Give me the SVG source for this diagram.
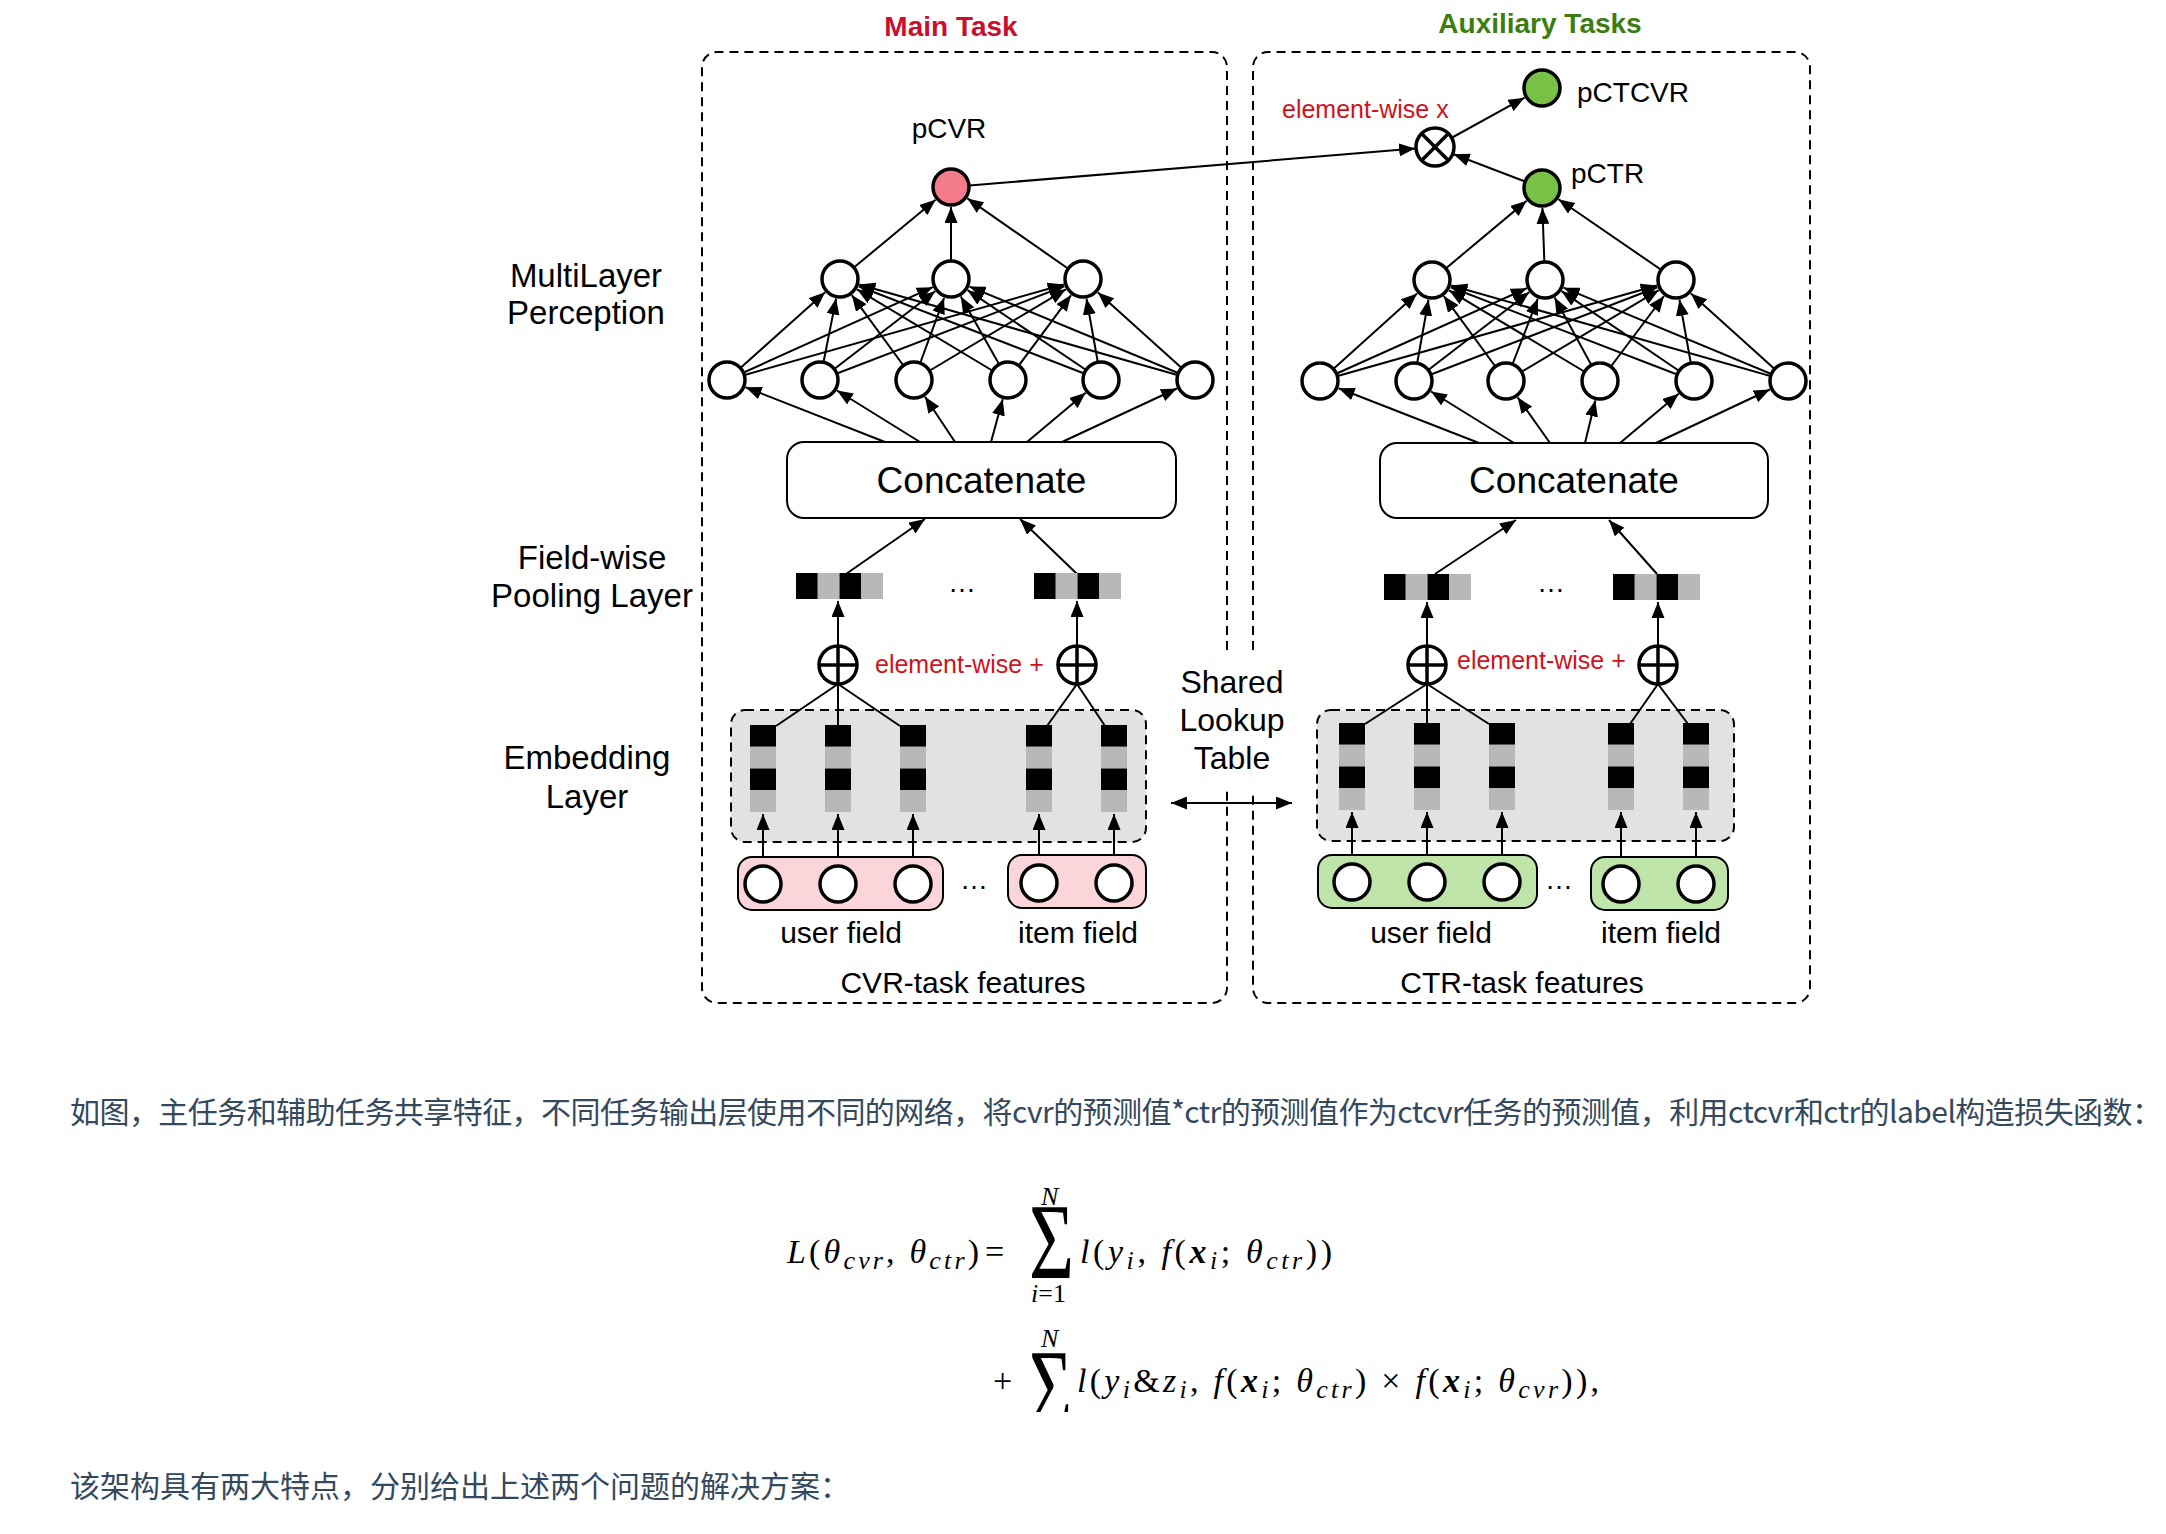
<svg xmlns="http://www.w3.org/2000/svg" width="2166" height="1534" viewBox="0 0 2166 1534">
<defs>
<marker id="ah" markerUnits="userSpaceOnUse" markerWidth="17" markerHeight="13" refX="16" refY="6.5" orient="auto-start-reverse"><path d="M0,0 L16,6.5 L0,13 z" fill="#000"/></marker>
<clipPath id="clip2"><rect x="1000" y="1300" width="100" height="112"/></clipPath>
</defs>
<style>
.c{fill:#fff;stroke:#000;stroke-width:3.5}
.e{stroke:#000;stroke-width:2;fill:none;marker-end:url(#ah)}
.l{stroke:#000;stroke-width:2;fill:none}
.x{stroke:#000;stroke-width:3.5;fill:none}
.t{font-family:'Liberation Sans',Arial,sans-serif;fill:#000}
.blk{fill:#000}
.gry{fill:#b8b8b8}
.dash{fill:none;stroke:#000;stroke-width:2;stroke-dasharray:9 6}
.redt{font-family:'Liberation Sans',Arial,sans-serif;fill:#d0121b}
.box{fill:#fff;stroke:#000;stroke-width:2}
.pink{fill:#fbd5da;stroke:#000;stroke-width:2}
.green{fill:#bfe4a9;stroke:#000;stroke-width:2}
.emb{fill:#e2e2e2;stroke:#000;stroke-width:2;stroke-dasharray:9 6}
.m{font-family:'Liberation Serif','DejaVu Serif',serif;font-style:italic;font-size:34px;fill:#000}
.up{font-style:normal}
.sb{font-size:26px}
.bx{font-weight:bold}
.cn{font-family:'Noto Sans CJK SC','Noto Sans',sans-serif;font-size:30px;fill:#34495e}
</style>

<g id="frames">
<path class="dash" d="M1227,650 V67 A15,15 0 0 0 1212,52 H717 A15,15 0 0 0 702,67 V988 A15,15 0 0 0 717,1003 H1212 A15,15 0 0 0 1227,988 V790"/>
<path class="dash" d="M1253,650 V67 A15,15 0 0 1 1268,52 H1795 A15,15 0 0 1 1810,67 V988 A15,15 0 0 1 1795,1003 H1268 A15,15 0 0 1 1253,988 V790"/>
<text class="t" x="951" y="36" text-anchor="middle" font-size="28" font-weight="bold" style="fill:#c8102e">Main Task</text>
<text class="t" x="1540" y="33" text-anchor="middle" font-size="28" font-weight="bold" style="fill:#3c7d10">Auxiliary Tasks</text>
</g>

<g id="layer-labels" font-size="33" text-anchor="middle">
<text class="t" x="586" y="287">MultiLayer</text>
<text class="t" x="586" y="324">Perception</text>
<text class="t" x="592" y="569">Field-wise</text>
<text class="t" x="592" y="607">Pooling Layer</text>
<text class="t" x="587" y="769">Embedding</text>
<text class="t" x="587" y="808">Layer</text>
</g>

<g id="embedding-areas">
<rect class="emb" x="731" y="710" width="415" height="132" rx="14"/>
<rect class="emb" x="1317" y="710" width="417" height="131" rx="14"/>
</g>

<g id="connectors">
<line class="e" x1="727" y1="380" x2="825.1" y2="292.3"/>
<line class="e" x1="727" y1="380" x2="932.8" y2="287.2"/>
<line class="e" x1="727" y1="380" x2="1063.8" y2="284.5"/>
<line class="e" x1="820" y1="380" x2="836.1" y2="298.6"/>
<line class="e" x1="820" y1="380" x2="935.2" y2="291.2"/>
<line class="e" x1="820" y1="380" x2="1064.3" y2="286.2"/>
<line class="e" x1="914" y1="380" x2="851.8" y2="295.1"/>
<line class="e" x1="914" y1="380" x2="944.1" y2="297.8"/>
<line class="e" x1="914" y1="380" x2="1065.8" y2="289.3"/>
<line class="e" x1="1008" y1="380" x2="857.1" y2="289.3"/>
<line class="e" x1="1008" y1="380" x2="960.8" y2="296.4"/>
<line class="e" x1="1008" y1="380" x2="1071.1" y2="295.1"/>
<line class="e" x1="1101" y1="380" x2="858.7" y2="286.2"/>
<line class="e" x1="1101" y1="380" x2="967.6" y2="290.2"/>
<line class="e" x1="1101" y1="380" x2="1086.5" y2="298.7"/>
<line class="e" x1="1195" y1="380" x2="859.2" y2="284.5"/>
<line class="e" x1="1195" y1="380" x2="969.5" y2="286.6"/>
<line class="e" x1="1195" y1="380" x2="1097.9" y2="292.4"/>
<line class="e" x1="840" y1="279" x2="935.6" y2="199.8"/>
<line class="e" x1="951" y1="279" x2="951" y2="207"/>
<line class="e" x1="1083" y1="279" x2="967.4" y2="198.4"/>
<line class="e" x1="885" y1="442" x2="745.6" y2="387.3"/>
<line class="e" x1="920" y1="442" x2="837" y2="390.5"/>
<line class="e" x1="955" y1="442" x2="925" y2="396.7"/>
<line class="e" x1="991" y1="442" x2="1002.7" y2="399.3"/>
<line class="e" x1="1027" y1="442" x2="1085.7" y2="392.8"/>
<line class="e" x1="1062" y1="442" x2="1176.9" y2="388.5"/>
<line class="e" x1="1320" y1="381" x2="1417.1" y2="293.4"/>
<line class="e" x1="1320" y1="381" x2="1526.8" y2="288.2"/>
<line class="e" x1="1320" y1="381" x2="1656.8" y2="285.5"/>
<line class="e" x1="1414" y1="381" x2="1428.5" y2="299.7"/>
<line class="e" x1="1414" y1="381" x2="1529.2" y2="292.2"/>
<line class="e" x1="1414" y1="381" x2="1657.3" y2="287.2"/>
<line class="e" x1="1506" y1="381" x2="1443.8" y2="296.1"/>
<line class="e" x1="1506" y1="381" x2="1537.8" y2="298.7"/>
<line class="e" x1="1506" y1="381" x2="1658.8" y2="290.2"/>
<line class="e" x1="1600" y1="381" x2="1449.1" y2="290.3"/>
<line class="e" x1="1600" y1="381" x2="1554.6" y2="297.6"/>
<line class="e" x1="1600" y1="381" x2="1664" y2="296"/>
<line class="e" x1="1694" y1="381" x2="1450.7" y2="287.2"/>
<line class="e" x1="1694" y1="381" x2="1561.6" y2="291.2"/>
<line class="e" x1="1694" y1="381" x2="1679.5" y2="299.7"/>
<line class="e" x1="1788" y1="381" x2="1451.2" y2="285.5"/>
<line class="e" x1="1788" y1="381" x2="1563.5" y2="287.7"/>
<line class="e" x1="1788" y1="381" x2="1690.9" y2="293.4"/>
<line class="e" x1="1432" y1="280" x2="1526.7" y2="200.8"/>
<line class="e" x1="1545" y1="280" x2="1542.4" y2="208"/>
<line class="e" x1="1676" y1="280" x2="1558.5" y2="199.3"/>
<line class="e" x1="1479" y1="443" x2="1338.6" y2="388.3"/>
<line class="e" x1="1514" y1="443" x2="1431" y2="391.5"/>
<line class="e" x1="1550" y1="443" x2="1517.6" y2="397.3"/>
<line class="e" x1="1585" y1="443" x2="1595.3" y2="400.4"/>
<line class="e" x1="1620" y1="443" x2="1678.7" y2="393.8"/>
<line class="e" x1="1656" y1="443" x2="1769.9" y2="389.5"/>
<line class="e" x1="951" y1="187" x2="1415.1" y2="148.6"/>
<line class="e" x1="1435" y1="147" x2="1524.5" y2="97.7"/>
<line class="e" x1="1542" y1="188" x2="1453.7" y2="154.2"/>
<line class="e" x1="846" y1="574" x2="925" y2="519"/>
<line class="e" x1="1077" y1="574" x2="1020" y2="519"/>
<line class="e" x1="1435" y1="574" x2="1516" y2="520"/>
<line class="e" x1="1657" y1="574" x2="1609" y2="520"/>
<line class="e" x1="838" y1="665" x2="838" y2="601"/>
<line class="e" x1="1077" y1="665" x2="1077" y2="601"/>
<line class="e" x1="1427" y1="665" x2="1427" y2="602"/>
<line class="e" x1="1658" y1="665" x2="1658" y2="602"/>
<line class="l" x1="776" y1="726" x2="838" y2="684"/>
<line class="l" x1="838" y1="725" x2="838" y2="684"/>
<line class="l" x1="900" y1="726" x2="838" y2="684"/>
<line class="l" x1="1047" y1="726" x2="1077" y2="684"/>
<line class="l" x1="1105" y1="726" x2="1077" y2="684"/>
<line class="l" x1="1365" y1="724" x2="1427" y2="684"/>
<line class="l" x1="1427" y1="723" x2="1427" y2="684"/>
<line class="l" x1="1489" y1="724" x2="1427" y2="684"/>
<line class="l" x1="1630" y1="724" x2="1658" y2="684"/>
<line class="l" x1="1688" y1="724" x2="1658" y2="684"/>
<line class="e" x1="763" y1="884" x2="763" y2="814"/>
<line class="e" x1="838" y1="884" x2="838" y2="814"/>
<line class="e" x1="913" y1="884" x2="913" y2="814"/>
<line class="e" x1="1039" y1="884" x2="1039" y2="814"/>
<line class="e" x1="1114" y1="884" x2="1114" y2="814"/>
<line class="e" x1="1352" y1="884" x2="1352" y2="812"/>
<line class="e" x1="1427" y1="884" x2="1427" y2="812"/>
<line class="e" x1="1502" y1="884" x2="1502" y2="812"/>
<line class="e" x1="1621" y1="884" x2="1621" y2="812"/>
<line class="e" x1="1696" y1="884" x2="1696" y2="812"/>
<line class="l" x1="1171" y1="803" x2="1292" y2="803" marker-start="url(#ah)" marker-end="url(#ah)"/>
</g>

<g id="main-mlp">
<circle class="c" cx="727" cy="380" r="18"/>
<circle class="c" cx="820" cy="380" r="18"/>
<circle class="c" cx="914" cy="380" r="18"/>
<circle class="c" cx="1008" cy="380" r="18"/>
<circle class="c" cx="1101" cy="380" r="18"/>
<circle class="c" cx="1195" cy="380" r="18"/>
<circle class="c" cx="840" cy="279" r="18"/>
<circle class="c" cx="951" cy="279" r="18"/>
<circle class="c" cx="1083" cy="279" r="18"/>
</g>
<g id="pcvr">
<circle class="c" cx="951" cy="187" r="18" style="fill:#f37b8b"/>
<text class="t" x="949" y="138" font-size="28" text-anchor="middle">pCVR</text>
</g>

<g id="aux-mlp">
<circle class="c" cx="1320" cy="381" r="18"/>
<circle class="c" cx="1414" cy="381" r="18"/>
<circle class="c" cx="1506" cy="381" r="18"/>
<circle class="c" cx="1600" cy="381" r="18"/>
<circle class="c" cx="1694" cy="381" r="18"/>
<circle class="c" cx="1788" cy="381" r="18"/>
<circle class="c" cx="1432" cy="280" r="18"/>
<circle class="c" cx="1545" cy="280" r="18"/>
<circle class="c" cx="1676" cy="280" r="18"/>
</g>
<g id="pctr">
<circle class="c" cx="1542" cy="188" r="18" style="fill:#78c146"/>
<text class="t" x="1571" y="183" font-size="28">pCTR</text>
</g>
<g id="pctcvr">
<circle class="c" cx="1542" cy="88" r="18" style="fill:#78c146"/>
<text class="t" x="1577" y="102" font-size="28">pCTCVR</text>
</g>
<g id="multiply">
<circle class="c" cx="1435" cy="147" r="19"/>
<line class="x" x1="1421.6" y1="133.6" x2="1448.4" y2="160.4"/>
<line class="x" x1="1448.4" y1="133.6" x2="1421.6" y2="160.4"/>
<text class="redt" x="1282" y="118" font-size="25">element-wise x</text>
</g>

<g id="main-concat">
<rect class="box" x="787" y="442" width="389" height="76" rx="17"/>
<text class="t" x="981.5" y="493" font-size="37" text-anchor="middle">Concatenate</text>
</g>
<g id="aux-concat">
<rect class="box" x="1380" y="443" width="388" height="75" rx="17"/>
<text class="t" x="1574" y="493" font-size="37" text-anchor="middle">Concatenate</text>
</g>

<g id="main-pooling">
<rect class="blk" x="796" y="573" width="21.75" height="26"/>
<rect class="gry" x="817.75" y="573" width="21.75" height="26"/>
<rect class="blk" x="839.5" y="573" width="21.75" height="26"/>
<rect class="gry" x="861.25" y="573" width="21.75" height="26"/>
<rect class="blk" x="1034" y="573" width="21.75" height="26"/>
<rect class="gry" x="1055.75" y="573" width="21.75" height="26"/>
<rect class="blk" x="1077.5" y="573" width="21.75" height="26"/>
<rect class="gry" x="1099.25" y="573" width="21.75" height="26"/>
<text class="t" x="962" y="592" font-size="28" text-anchor="middle">…</text>
</g>
<g id="aux-pooling">
<rect class="blk" x="1384" y="574" width="21.75" height="26"/>
<rect class="gry" x="1405.75" y="574" width="21.75" height="26"/>
<rect class="blk" x="1427.5" y="574" width="21.75" height="26"/>
<rect class="gry" x="1449.25" y="574" width="21.75" height="26"/>
<rect class="blk" x="1613" y="574" width="21.75" height="26"/>
<rect class="gry" x="1634.75" y="574" width="21.75" height="26"/>
<rect class="blk" x="1656.5" y="574" width="21.75" height="26"/>
<rect class="gry" x="1678.25" y="574" width="21.75" height="26"/>
<text class="t" x="1551" y="592" font-size="28" text-anchor="middle">…</text>
</g>

<g id="main-sums">
<circle class="c" cx="838" cy="665" r="19"/>
<line class="x" x1="838" y1="646" x2="838" y2="684"/>
<line class="x" x1="819" y1="665" x2="857" y2="665"/>
<circle class="c" cx="1077" cy="665" r="19"/>
<line class="x" x1="1077" y1="646" x2="1077" y2="684"/>
<line class="x" x1="1058" y1="665" x2="1096" y2="665"/>
<text class="redt" x="875" y="673" font-size="25">element-wise +</text>
</g>
<g id="aux-sums">
<circle class="c" cx="1427" cy="665" r="19"/>
<line class="x" x1="1427" y1="646" x2="1427" y2="684"/>
<line class="x" x1="1408" y1="665" x2="1446" y2="665"/>
<circle class="c" cx="1658" cy="665" r="19"/>
<line class="x" x1="1658" y1="646" x2="1658" y2="684"/>
<line class="x" x1="1639" y1="665" x2="1677" y2="665"/>
<text class="redt" x="1457" y="669" font-size="25">element-wise +</text>
</g>

<g id="main-embeddings">
<rect class="blk" x="750" y="725" width="26" height="21.75"/><rect class="gry" x="750" y="746.75" width="26" height="21.75"/><rect class="blk" x="750" y="768.5" width="26" height="21.75"/><rect class="gry" x="750" y="790.25" width="26" height="21.75"/>
<rect class="blk" x="825" y="725" width="26" height="21.75"/><rect class="gry" x="825" y="746.75" width="26" height="21.75"/><rect class="blk" x="825" y="768.5" width="26" height="21.75"/><rect class="gry" x="825" y="790.25" width="26" height="21.75"/>
<rect class="blk" x="900" y="725" width="26" height="21.75"/><rect class="gry" x="900" y="746.75" width="26" height="21.75"/><rect class="blk" x="900" y="768.5" width="26" height="21.75"/><rect class="gry" x="900" y="790.25" width="26" height="21.75"/>
<rect class="blk" x="1026" y="725" width="26" height="21.75"/><rect class="gry" x="1026" y="746.75" width="26" height="21.75"/><rect class="blk" x="1026" y="768.5" width="26" height="21.75"/><rect class="gry" x="1026" y="790.25" width="26" height="21.75"/>
<rect class="blk" x="1101" y="725" width="26" height="21.75"/><rect class="gry" x="1101" y="746.75" width="26" height="21.75"/><rect class="blk" x="1101" y="768.5" width="26" height="21.75"/><rect class="gry" x="1101" y="790.25" width="26" height="21.75"/>
</g>
<g id="aux-embeddings">
<rect class="blk" x="1339" y="723" width="26" height="21.75"/><rect class="gry" x="1339" y="744.75" width="26" height="21.75"/><rect class="blk" x="1339" y="766.5" width="26" height="21.75"/><rect class="gry" x="1339" y="788.25" width="26" height="21.75"/>
<rect class="blk" x="1414" y="723" width="26" height="21.75"/><rect class="gry" x="1414" y="744.75" width="26" height="21.75"/><rect class="blk" x="1414" y="766.5" width="26" height="21.75"/><rect class="gry" x="1414" y="788.25" width="26" height="21.75"/>
<rect class="blk" x="1489" y="723" width="26" height="21.75"/><rect class="gry" x="1489" y="744.75" width="26" height="21.75"/><rect class="blk" x="1489" y="766.5" width="26" height="21.75"/><rect class="gry" x="1489" y="788.25" width="26" height="21.75"/>
<rect class="blk" x="1608" y="723" width="26" height="21.75"/><rect class="gry" x="1608" y="744.75" width="26" height="21.75"/><rect class="blk" x="1608" y="766.5" width="26" height="21.75"/><rect class="gry" x="1608" y="788.25" width="26" height="21.75"/>
<rect class="blk" x="1683" y="723" width="26" height="21.75"/><rect class="gry" x="1683" y="744.75" width="26" height="21.75"/><rect class="blk" x="1683" y="766.5" width="26" height="21.75"/><rect class="gry" x="1683" y="788.25" width="26" height="21.75"/>
</g>

<g id="shared-lookup">
<text class="t" x="1232" y="693" font-size="32" text-anchor="middle">Shared</text>
<text class="t" x="1232" y="731" font-size="32" text-anchor="middle">Lookup</text>
<text class="t" x="1232" y="769" font-size="32" text-anchor="middle">Table</text>
</g>

<g id="main-user-field">
<rect class="pink" x="738" y="857" width="205" height="53" rx="14"/>
<circle class="c" cx="763" cy="884" r="18"/>
<circle class="c" cx="838" cy="884" r="18"/>
<circle class="c" cx="913" cy="884" r="18"/>
<text class="t" x="841" y="943" font-size="30" text-anchor="middle">user field</text>
</g>
<g id="main-item-field">
<rect class="pink" x="1008" y="855" width="138" height="53" rx="14"/>
<circle class="c" cx="1039" cy="883" r="18"/>
<circle class="c" cx="1114" cy="883" r="18"/>
<text class="t" x="1078" y="943" font-size="30" text-anchor="middle">item field</text>
</g>
<text class="t" x="974" y="889" font-size="28" text-anchor="middle">…</text>
<text class="t" x="963" y="993" font-size="30" text-anchor="middle">CVR-task features</text>

<g id="aux-user-field">
<rect class="green" x="1318" y="855" width="219" height="53" rx="14"/>
<circle class="c" cx="1352" cy="882" r="18"/>
<circle class="c" cx="1427" cy="882" r="18"/>
<circle class="c" cx="1502" cy="882" r="18"/>
<text class="t" x="1431" y="943" font-size="30" text-anchor="middle">user field</text>
</g>
<g id="aux-item-field">
<rect class="green" x="1591" y="857" width="137" height="53" rx="14"/>
<circle class="c" cx="1621" cy="884" r="18"/>
<circle class="c" cx="1696" cy="884" r="18"/>
<text class="t" x="1661" y="943" font-size="30" text-anchor="middle">item field</text>
</g>
<text class="t" x="1559" y="889" font-size="28" text-anchor="middle">…</text>
<text class="t" x="1522" y="993" font-size="30" text-anchor="middle">CTR-task features</text>

<g id="caption">
<text class="cn" x="70" y="1123" textLength="2092" lengthAdjust="spacing">如图，主任务和辅助任务共享特征，不同任务输出层使用不同的网络，将cvr的预测值*ctr的预测值作为ctcvr任务的预测值，利用ctcvr和ctr的label构造损失函数：</text>
<text class="cn" x="70" y="1497">该架构具有两大特点，分别给出上述两个问题的解决方案：</text>
</g>

<g id="formula">
<text class="m" x="787" y="1263" textLength="192" lengthAdjust="spacing">L<tspan class="up">(</tspan>θ<tspan class="sb" dy="6">cvr</tspan><tspan class="up" dy="-6">, </tspan>θ<tspan class="sb" dy="6">ctr</tspan><tspan class="up" dy="-6">)</tspan></text>
<text class="m up" x="985" y="1263">=</text>
<text class="m up" x="1029" y="1278" style="font-size:108px" textLength="45" lengthAdjust="spacingAndGlyphs">Σ</text>
<text class="m" x="1041" y="1205" style="font-size:26px">N</text>
<text class="m" x="1031" y="1302" style="font-size:26px">i<tspan class="up">=1</tspan></text>
<text class="m" x="1080" y="1263" textLength="252" lengthAdjust="spacing">l<tspan class="up">(</tspan>y<tspan class="sb" dy="6">i</tspan><tspan class="up" dy="-6">, </tspan>f<tspan class="up">(</tspan><tspan class="bx">x</tspan><tspan class="sb" dy="6">i</tspan><tspan class="up" dy="-6">; </tspan>θ<tspan class="sb" dy="6">ctr</tspan><tspan class="up" dy="-6">))</tspan></text>

<text class="m up" x="993" y="1392">+</text>
<g clip-path="url(#clip2)">
<text class="m up" x="1029" y="1424" style="font-size:108px" textLength="43" lengthAdjust="spacingAndGlyphs">Σ</text>
</g>
<text class="m" x="1041" y="1347" style="font-size:26px">N</text>
<text class="m" x="1077" y="1392" textLength="522" lengthAdjust="spacing">l<tspan class="up">(</tspan>y<tspan class="sb" dy="6">i</tspan><tspan class="up" dy="-6">&amp;</tspan>z<tspan class="sb" dy="6">i</tspan><tspan class="up" dy="-6">, </tspan>f<tspan class="up">(</tspan><tspan class="bx">x</tspan><tspan class="sb" dy="6">i</tspan><tspan class="up" dy="-6">; </tspan>θ<tspan class="sb" dy="6">ctr</tspan><tspan class="up" dy="-6">) × </tspan>f<tspan class="up">(</tspan><tspan class="bx">x</tspan><tspan class="sb" dy="6">i</tspan><tspan class="up" dy="-6">; </tspan>θ<tspan class="sb" dy="6">cvr</tspan><tspan class="up" dy="-6">)),</tspan></text>
</g>
</svg>
